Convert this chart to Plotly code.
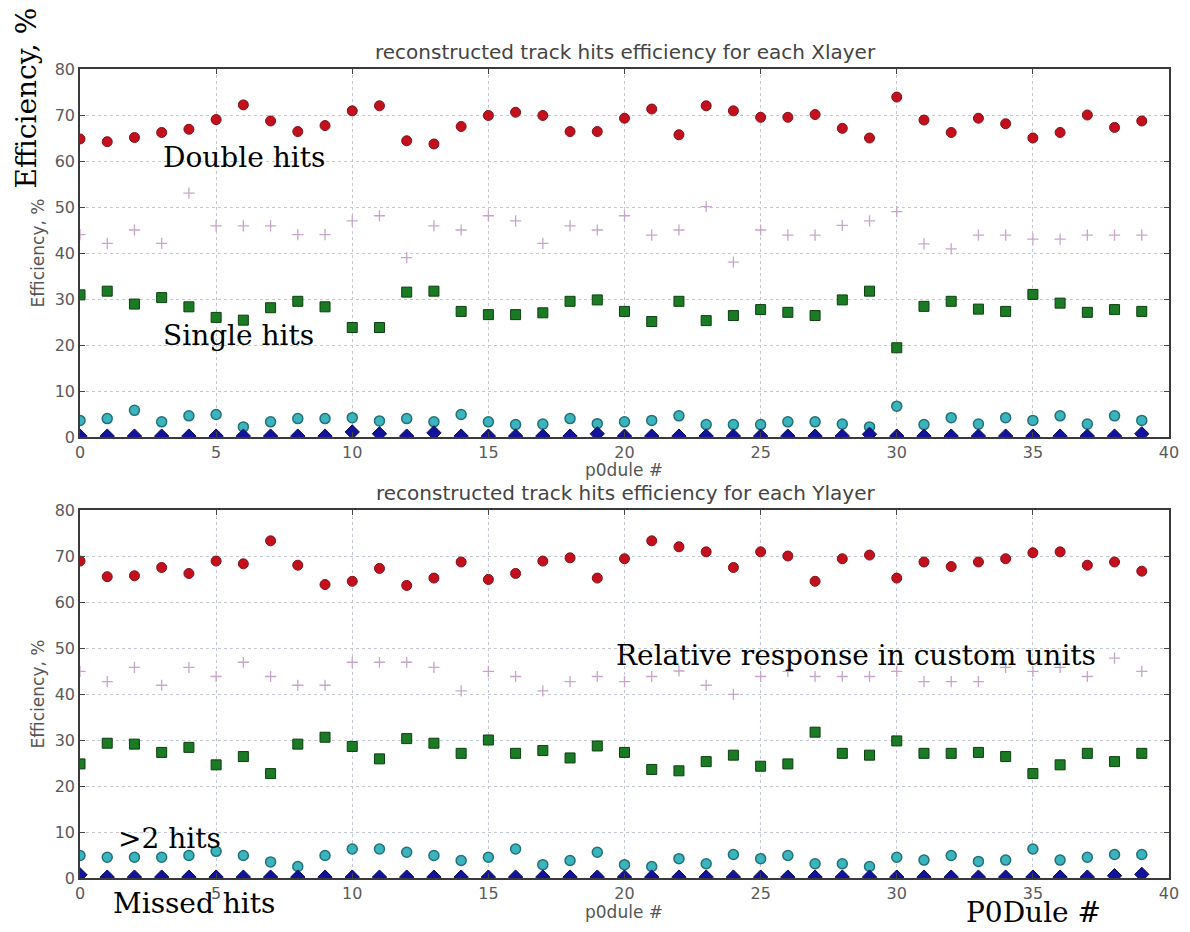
import plotly.graph_objects as go

# module index along the x axis
modules = list(range(40))

# ---- X layers ----
x_double = [64.8, 64.2, 65.1, 66.2, 66.9, 69.0, 72.2, 68.7, 66.4, 67.7,
            70.9, 72.0, 64.4, 63.7, 67.5, 69.9, 70.6, 69.9, 66.4, 66.4,
            69.3, 71.3, 65.7, 72.0, 70.9, 69.5, 69.5, 70.1, 67.1, 65.0,
            73.9, 68.9, 66.2, 69.3, 68.1, 65.0, 66.2, 70.0, 67.3, 68.7]
x_relative = [44.0, 42.1, 45.0, 42.1, 53.0, 45.9, 45.9, 45.9, 44.0, 44.0,
              47.0, 48.1, 39.0, 45.9, 45.0, 48.1, 47.0, 42.1, 45.9, 45.0,
              48.1, 43.9, 45.0, 50.1, 38.0, 45.0, 43.9, 43.9, 46.0, 47.0,
              49.0, 42.0, 40.9, 43.9, 43.9, 43.0, 43.0, 43.9, 43.9, 43.9]
x_single = [30.9, 31.7, 28.9, 30.3, 28.3, 26.0, 25.4, 28.1, 29.5, 28.3,
            23.8, 23.8, 31.5, 31.7, 27.3, 26.6, 26.6, 27.0, 29.5, 29.8,
            27.3, 25.1, 29.5, 25.3, 26.4, 27.7, 27.1, 26.4, 29.8, 31.7,
            19.4, 28.4, 29.5, 27.8, 27.3, 31.0, 29.1, 27.1, 27.7, 27.3]
x_more = [3.6, 4.0, 5.8, 3.3, 4.6, 4.9, 2.2, 3.3, 4.0, 4.0,
          4.2, 3.5, 4.0, 3.3, 4.9, 3.3, 2.7, 2.8, 4.0, 2.9,
          3.3, 3.6, 4.6, 2.7, 2.7, 2.7, 3.3, 3.3, 2.8, 2.2,
          6.7, 2.7, 4.2, 2.8, 4.2, 3.6, 4.6, 2.8, 4.6, 3.6]
x_missed = [0.2, 0.2, 0.2, 0.2, 0.2, 0.2, 0.2, 0.2, 0.2, 0.2,
            1.1, 0.7, 0.2, 0.9, 0.2, 0.2, 0.2, 0.2, 0.2, 0.7,
            0.2, 0.2, 0.2, 0.2, 0.2, 0.2, 0.2, 0.2, 0.2, 0.6,
            0.2, 0.2, 0.2, 0.2, 0.2, 0.2, 0.2, 0.2, 0.2, 0.7]

# ---- Y layers ----
y_double = [68.9, 65.5, 65.7, 67.5, 66.2, 68.9, 68.3, 73.3, 68.0, 63.8,
            64.5, 67.3, 63.6, 65.2, 68.7, 64.9, 66.2, 68.9, 69.6, 65.2,
            69.4, 73.3, 72.0, 70.9, 67.5, 70.9, 70.0, 64.5, 69.4, 70.2,
            65.2, 68.7, 67.7, 68.7, 69.4, 70.7, 70.9, 68.0, 68.7, 66.7]
y_relative = [44.9, 42.7, 45.8, 41.9, 45.8, 43.8, 46.9, 43.8, 41.9, 41.9,
              46.9, 46.9, 46.9, 45.8, 40.7, 44.9, 43.8, 40.7, 42.7, 43.8,
              42.7, 43.8, 45.0, 41.9, 39.9, 43.8, 44.9, 43.8, 43.8, 43.8,
              44.9, 42.7, 42.7, 42.7, 45.8, 44.9, 45.8, 43.8, 47.8, 44.9]
y_single = [24.8, 29.3, 29.1, 27.3, 28.4, 24.6, 26.4, 22.7, 29.1, 30.6,
            28.6, 25.9, 30.3, 29.3, 27.1, 30.0, 27.1, 27.7, 26.1, 28.7,
            27.3, 23.6, 23.3, 25.3, 26.7, 24.3, 24.8, 31.7, 27.1, 26.7,
            29.8, 27.1, 27.1, 27.3, 26.4, 22.7, 24.6, 27.1, 25.3, 27.1]
y_more = [4.9, 4.5, 4.5, 4.5, 4.9, 5.8, 4.9, 3.5, 2.5, 4.9,
          6.3, 6.3, 5.6, 4.9, 3.8, 4.5, 6.3, 2.9, 3.8, 5.6,
          2.9, 2.5, 4.2, 3.1, 5.1, 4.2, 4.9, 3.1, 3.1, 2.5,
          4.5, 3.9, 4.9, 3.6, 3.9, 6.3, 3.9, 4.5, 5.1, 5.1]
y_missed = [0.7, 0.2, 0.2, 0.2, 0.2, 0.2, 0.2, 0.2, 0.2, 0.2,
            0.2, 0.2, 0.2, 0.2, 0.2, 0.2, 0.2, 0.2, 0.2, 0.2,
            0.2, 0.2, 0.2, 0.2, 0.2, 0.2, 0.2, 0.2, 0.2, 0.2,
            0.2, 0.2, 0.2, 0.2, 0.2, 0.2, 0.2, 0.2, 0.5, 0.8]

panel_titles = ["reconstructed track hits efficiency for each Xlayer",
                "reconstructed track hits efficiency for each Ylayer"]
y_ticks = [0, 10, 20, 30, 40, 50, 60, 70, 80]
x_ticks = [0, 5, 10, 15, 20, 25, 30, 35, 40]

W, H = 1190, 932
ML, MR, MT, MB = 80, 11, 69, 54
PW, PH = W - ML - MR, H - MT - MB


def px(x):
    return (x - ML) / PW


def py(y):
    return (H - MB - y) / PH


fig = go.Figure()

styles = [
    dict(mode="markers", marker=dict(symbol="cross-thin", size=8, color="rgba(0,0,0,0)",
                                     line=dict(color="#c6a6c8", width=1.3))),
    dict(mode="markers", marker=dict(symbol="circle", size=10, color="#c4101c",
                                     line=dict(color="#80101a", width=1))),
    dict(mode="markers", marker=dict(symbol="square", size=10, color="#1b7a24",
                                     line=dict(color="#0c3f10", width=1))),
    dict(mode="markers", marker=dict(symbol="circle", size=10, color="#3bb5bd",
                                     line=dict(color="#237177", width=1.5))),
    dict(mode="markers", marker=dict(symbol="diamond", size=11, color="#12129a",
                                     line=dict(color="#0a0a60", width=1))),
]

panels = [
    ("x", "y", [x_relative, x_double, x_single, x_more, x_missed]),
    ("x2", "y2", [y_relative, y_double, y_single, y_more, y_missed]),
]
for xa, ya, series in panels:
    for vals, st in zip(series, styles):
        fig.add_trace(go.Scatter(x=modules, y=vals, xaxis=xa, yaxis=ya,
                                 showlegend=False, cliponaxis=True, **st))

axis_common = dict(
    showline=True, mirror="ticks", linecolor="#3a3a3a", linewidth=1.5,
    ticks="inside", ticklen=5, tickcolor="#444", tickwidth=1,
    showgrid=True, gridcolor="#c2c7d2", griddash="dot", gridwidth=1,
    zeroline=False,
    tickfont=dict(family="DejaVu Sans", size=16, color="#5a5a5a"),
)

top_dom = [py(437), 1.0]
bot_dom = [0.0, py(510)]

fig.update_layout(
    width=W, height=H,
    margin=dict(l=ML, r=MR, t=MT, b=MB),
    paper_bgcolor="white", plot_bgcolor="white",
    xaxis=dict(domain=[0, 1], anchor="y", range=[0, 40], tickvals=x_ticks, **axis_common),
    yaxis=dict(domain=top_dom, anchor="x", range=[0, 80], tickvals=y_ticks, **axis_common),
    xaxis2=dict(domain=[0, 1], anchor="y2", range=[0, 40], tickvals=x_ticks, **axis_common),
    yaxis2=dict(domain=bot_dom, anchor="x2", range=[0, 80], tickvals=y_ticks, **axis_common),
)

title_font = dict(family="DejaVu Sans", size=20, color="#444")
label_font = dict(family="DejaVu Sans", size=17, color="#555")
big = dict(family="DejaVu Serif", size=28, color="black")

ann = []
# panel titles
for title, yc in zip(panel_titles, [52, 493]):
    ann.append(dict(text=title, x=px(631), y=py(yc), xanchor="center", yanchor="middle", font=title_font))
# x axis labels
for yc in [470, 912]:
    ann.append(dict(text="p0dule #", x=px(629), y=py(yc), xanchor="center", yanchor="middle", font=label_font))
# y axis labels
for yc in [253, 694]:
    ann.append(dict(text="Efficiency, %", x=px(38), y=py(yc), xanchor="center", yanchor="middle",
                    textangle=-90, font=dict(family="DejaVu Sans", size=17, color="#555")))

# overlay labels
overlay = [
    ("Double hits", 162, 158),
    ("Single hits", 162, 335),
    (">2 hits", 116, 838),
    ("Missed hits", 111, 903),
    ("Relative response in custom units", 619, 655),
    ("P0Dule #", 972, 912),
]
for text, xl, yc in overlay:
    ann.append(dict(text=text, x=px(xl), y=py(yc), xanchor="left", yanchor="middle", font=big))
ann.append(dict(text="Efficiency, %", x=px(27), y=py(98), xanchor="center", yanchor="middle",
                textangle=-90, font=big))

for a in ann:
    a.update(xref="paper", yref="paper", showarrow=False)
fig.update_layout(annotations=ann)

fig.write_html("out.html")
